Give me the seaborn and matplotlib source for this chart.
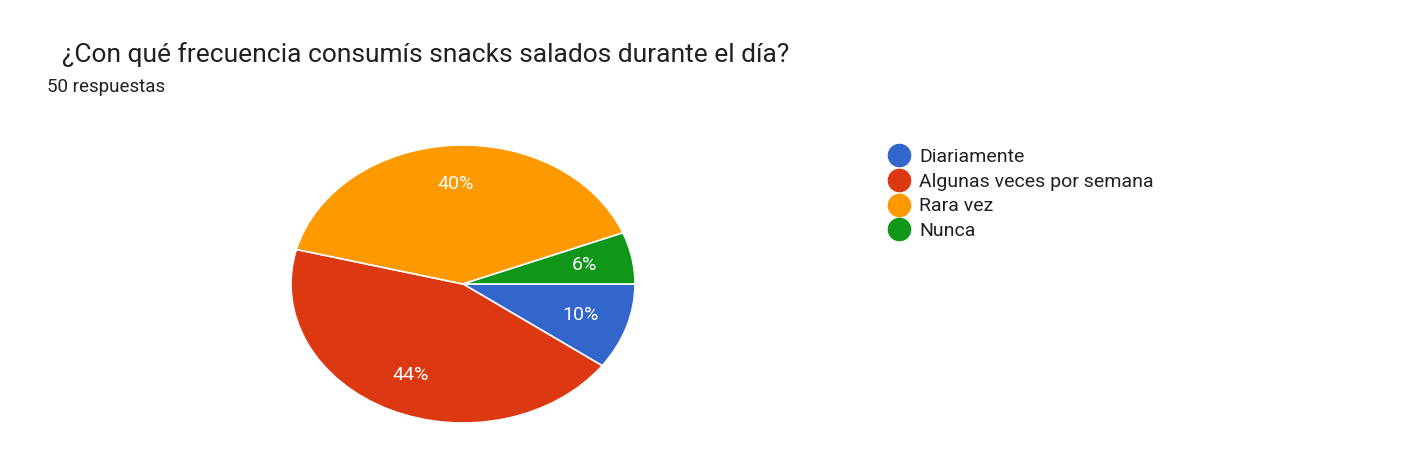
import matplotlib
matplotlib.use("Agg")
import matplotlib.pyplot as plt
import seaborn as sns
from matplotlib.lines import Line2D

categories = ["Diariamente", "Algunas veces por semana", "Rara vez", "Nunca"]
values = [10, 44, 40, 6]
colors = ["#3366cc", "#dc3912", "#ff9900", "#109618"]
title = "¿Con qué frecuencia consumís snacks salados durante el día?"
subtitle = "50 respuestas"

sns.set_theme(style="white")
plt.rcParams['font.family'] = ['Roboto', 'DejaVu Sans']

fig = plt.figure(figsize=(14.06, 4.75), dpi=100)
ax = fig.add_axes([291/1406, (475-423)/475, 344/1406, 278/475])
wedges, texts, autotexts = ax.pie(values, colors=colors, startangle=0, counterclock=False,
                                  autopct=lambda p: f"{p:.0f}%", pctdistance=0.72,
                                  wedgeprops=dict(edgecolor="white", linewidth=1.2),
                                  textprops=dict(color="white", fontsize=14))
ax.set_xlim(-1, 1); ax.set_ylim(-1, 1); ax.set_aspect("auto"); ax.axis("off")

fig.text(62/1406, 1-55/475, title, fontsize=19, color="#212121", va="center")
fig.text(47/1406, 1-87/475, subtitle, fontsize=13.5, color="#212121", va="center")

handles = [Line2D([], [], marker="o", linestyle="", markersize=16, markerfacecolor=c,
                  markeredgecolor=c) for c in colors]
fig.legend(handles, categories, loc="upper left", bbox_to_anchor=(880/1406, 1-140/475),
           frameon=False, fontsize=14, handletextpad=0.4, labelspacing=0.35,
           borderaxespad=0, handlelength=1.2, labelcolor="#212121")
fig.savefig("out.png", dpi=100)
